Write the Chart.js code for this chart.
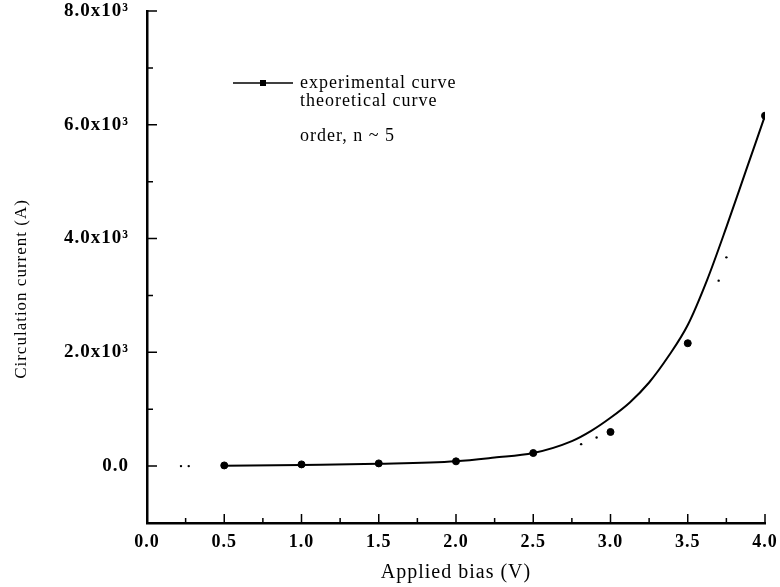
<!DOCTYPE html>
<html>
<head>
<meta charset="utf-8">
<script src="https://cdn.jsdelivr.net/npm/chart.js@4.4.1/dist/chart.umd.min.js"></script>
<style>
  body { margin: 0; background: #fff; }
  #wrap { width: 780px; height: 587px; }
</style>
</head>
<body>
<div id="wrap"><canvas id="biasChart"></canvas></div>
<script>
// experimental points (V, A)
const biasV = [0.5, 1.0, 1.5, 2.0, 2.5, 3.0, 3.5, 4.0];
const expCurrent = [12, 30, 48, 84, 230, 600, 2160, 6160];

// solid curve
const curveV = [0.5, 1.0, 1.5, 2.0, 2.25, 2.5, 2.75, 2.875, 3.0, 3.125, 3.25, 3.375, 3.5, 3.625, 3.75, 3.875, 4.0];
const curveCurrent = [5, 20, 40, 85, 150, 230, 440, 620, 850, 1120, 1470, 1930, 2480, 3270, 4200, 5180, 6160];

// faint dots of the theoretical curve that survived the scan
const theoryV = [0.22, 0.27, 2.81, 2.91, 3.70, 3.75];
const theoryCurrent = [0, 0, 386, 503, 3260, 3670];

const xTickLabels = {0: "0.0", 0.5: "0.5", 1: "1.0", 1.5: "1.5", 2: "2.0", 2.5: "2.5", 3: "3.0", 3.5: "3.5", 4: "4.0"};
const yTickLabels = {0: "0.0", 2000: "2.0x10\u00B3", 4000: "4.0x10\u00B3", 6000: "6.0x10\u00B3", 8000: "8.0x10\u00B3"};
const legendLines = ["experimental curve", "theoretical curve", "order, n ~ 5"];

const serif = "'Liberation Serif', 'Times New Roman', serif";

function toXY(xs, ys) {
    return xs.map((x, i) => ({x: x, y: ys[i]}));
}

// the scanned lettering is a bit loosely spaced
const spacing = {
    id: "spacing",
    beforeInit(chart) { chart.ctx.letterSpacing = "1px"; },
    beforeUpdate(chart) { chart.ctx.letterSpacing = "1px"; },
    beforeDraw(chart) { chart.ctx.letterSpacing = "1px"; }
};

// tick marks point into the plot in the original
const innerTicks = {
    id: "innerTicks",
    afterDatasetsDraw(chart) {
        const ctx = chart.ctx;
        const xs = chart.scales.x, ys = chart.scales.y;
        ctx.save();
        ctx.strokeStyle = "#000";
        ctx.lineWidth = 1.5;
        ctx.beginPath();
        for (let v = 0.25; v <= 4.001; v += 0.25) {
            const px = xs.getPixelForValue(v);
            const len = (Math.round(v * 4) % 2 === 0) ? 9 : 5;
            ctx.moveTo(px, ys.bottom);
            ctx.lineTo(px, ys.bottom - len);
        }
        for (let v = 0; v <= 8000; v += 1000) {
            const py = ys.getPixelForValue(v);
            const len = (v % 2000 === 0) ? 10 : 6;
            ctx.moveTo(xs.left, py);
            ctx.lineTo(xs.left + len, py);
        }
        ctx.stroke();
        ctx.restore();
    }
};

const figureText = {
    id: "figureText",
    afterDraw(chart) {
        const ctx = chart.ctx;
        ctx.save();
        ctx.fillStyle = "#000";
        // y title
        ctx.translate(22, 289);
        ctx.rotate(-Math.PI / 2);
        ctx.font = "17px " + serif;
        ctx.textAlign = "center";
        ctx.textBaseline = "middle";
        ctx.fillText("Circulation current (A)", 0, 0);
        ctx.restore();

        // legend
        ctx.save();
        ctx.fillStyle = "#000";
        ctx.strokeStyle = "#000";
        ctx.lineWidth = 1.5;
        ctx.beginPath();
        ctx.moveTo(233, 83);
        ctx.lineTo(293, 83);
        ctx.stroke();
        ctx.fillRect(260, 80, 6, 6);
        ctx.font = "18px " + serif;
        ctx.textBaseline = "middle";
        ctx.fillText(legendLines[0], 300, 83);
        ctx.fillText(legendLines[1], 300, 101);
        ctx.fillText(legendLines[2], 300, 136);
        ctx.restore();
    }
};

new Chart(document.getElementById("biasChart"), {
    type: "scatter",
    data: {
        datasets: [{
            label: "experimental curve",
            data: toXY(curveV, curveCurrent),
            showLine: true,
            cubicInterpolationMode: "monotone",
            borderColor: "#000",
            borderWidth: 2,
            pointRadius: 0
        }, {
            label: "experimental points",
            data: toXY(biasV, expCurrent),
            showLine: false,
            backgroundColor: "#000",
            borderColor: "#000",
            pointRadius: 3.5
        }, {
            label: "theoretical curve",
            data: toXY(theoryV, theoryCurrent),
            showLine: false,
            backgroundColor: "#000",
            borderColor: "#000",
            pointRadius: 1.2,
            borderWidth: 0
        }]
    },
    options: {
        responsive: true,
        maintainAspectRatio: false,
        animation: false,
        layout: {padding: {top: 11, right: 15, left: 0, bottom: 0}},
        plugins: {
            legend: {display: false},
            tooltip: {enabled: false}
        },
        scales: {
            x: {
                type: "linear",
                min: 0,
                max: 4,
                grid: {display: false},
                border: {display: true, color: "#000", width: 2.5},
                ticks: {
                    stepSize: 0.5,
                    color: "#000",
                    padding: 1,
                    maxRotation: 0,
                    font: {family: serif, size: 18, weight: "bold"},
                    callback: (v) => xTickLabels[v] ?? ""
                },
                title: {
                    display: true,
                    text: "Applied bias (V)",
                    color: "#000",
                    padding: {top: 0, bottom: 2},
                    font: {family: serif, size: 20}
                },
                afterFit: (s) => { s.height = 64; s.paddingRight = 0; s.paddingLeft = 0; }
            },
            y: {
                type: "linear",
                min: -1000,
                max: 8000,
                grid: {display: false},
                border: {display: true, color: "#000", width: 2.5},
                ticks: {
                    stepSize: 1000,
                    color: "#000",
                    padding: 10,
                    font: {family: serif, size: 19, weight: "bold"},
                    callback: (v) => yTickLabels[v] ?? ""
                },
                afterFit: (s) => { s.width = 147; s.paddingTop = 0; s.paddingBottom = 0; }
            }
        }
    },
    plugins: [spacing, innerTicks, figureText]
});
</script>
</body>
</html>
